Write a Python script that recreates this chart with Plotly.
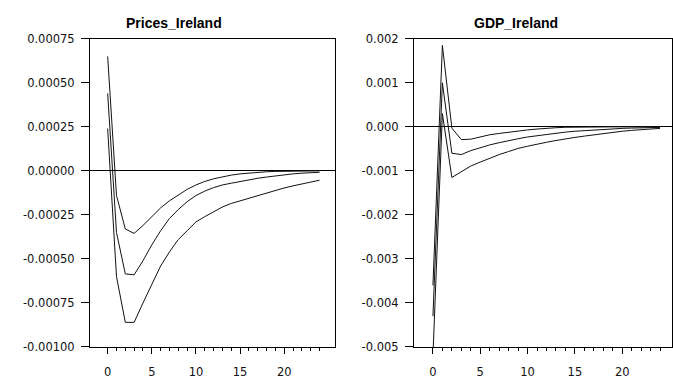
import plotly.graph_objects as go

periods = list(range(25))

prices_upper = [0.00065, -0.00014, -0.00033, -0.000355, -0.00031, -0.00026, -0.00021, -0.00017,
                -0.000135, -0.000105, -0.00008, -0.00006, -0.000045, -0.000033, -0.000024, -0.000017,
                -0.000012, -0.000008, -0.000005, -0.000003, -0.000002, -0.000001, -0.000001, 0.0, 0.0]
prices_mid = [0.00044, -0.00035, -0.000585, -0.00059, -0.00051, -0.00042, -0.00034, -0.00027,
              -0.00022, -0.000175, -0.00014, -0.000115, -0.000095, -0.00008, -0.00007, -0.00006,
              -0.00005, -0.000042, -0.000035, -0.000028, -0.000022, -0.000017, -0.000013, -0.00001, -0.000008]
prices_lower = [0.00024, -0.0006, -0.00086, -0.00086, -0.00075, -0.00064, -0.00054, -0.00046,
                -0.00039, -0.00034, -0.00029, -0.00026, -0.00023, -0.000205, -0.000185, -0.00017,
                -0.000155, -0.00014, -0.000125, -0.00011, -0.000097, -0.000085, -0.000074, -0.000063, -0.000053]

gdp_upper = [-0.0036, 0.00185, -0.00003, -0.00029, -0.00028, -0.00023, -0.00018, -0.00015,
             -0.00012, -0.00009, -0.00007, -0.00005, -0.00003, -0.00002, -0.00001, -0.000005,
             0.0, 0.0, 0.0, 0.0, 0.0, 0.0, 0.0, 0.0, 0.0]
gdp_mid = [-0.0043, 0.001, -0.0006, -0.00063, -0.00054, -0.00047, -0.00041, -0.00036,
           -0.00031, -0.00027, -0.00023, -0.0002, -0.00017, -0.00014, -0.00012, -0.0001,
           -0.000085, -0.00007, -0.000055, -0.000045, -0.000035, -0.000028, -0.000022, -0.000017, -0.000013]
gdp_lower = [-0.0052, 0.0003, -0.00115, -0.00102, -0.00089, -0.0008, -0.00071, -0.00063,
             -0.00056, -0.00049, -0.00044, -0.00039, -0.00035, -0.00031, -0.00027, -0.00024,
             -0.00021, -0.00018, -0.00015, -0.00012, -0.0001, -0.00008, -0.00006, -0.000045, -0.000035]

titles = ["Prices_Ireland", "GDP_Ireland"]
prices_ticks = [-0.001, -0.00075, -0.0005, -0.00025, 0.0, 0.00025, 0.0005, 0.00075]
gdp_ticks = [-0.005, -0.004, -0.003, -0.002, -0.001, 0.0, 0.001, 0.002]
x_major = [0, 5, 10, 15, 20]

W, H = 673, 380

fig = go.Figure()
line_style = dict(color="#111111", width=1)
for ys in (prices_upper, prices_mid, prices_lower):
    fig.add_trace(go.Scatter(x=periods, y=ys, mode="lines", line=line_style,
                             xaxis="x", yaxis="y", showlegend=False, hoverinfo="skip"))
for ys in (gdp_upper, gdp_mid, gdp_lower):
    fig.add_trace(go.Scatter(x=periods, y=ys, mode="lines", line=line_style,
                             xaxis="x2", yaxis="y2", showlegend=False, hoverinfo="skip"))

tick_font = dict(family="DejaVu Sans", size=11.5, color="#111111")
ydom = [1 - 353 / H, 1 - 33 / H]


def fmt(v, d):
    return f"{v:.{d}f}"


def xaxis(dom, rng, anchor):
    return dict(domain=dom, range=rng, anchor=anchor, showgrid=False, zeroline=False,
                showline=True, linecolor="black", linewidth=1, mirror=True,
                tickmode="array", tickvals=x_major, ticktext=[str(v) for v in x_major],
                ticks="outside", ticklen=6, tickcolor="black", tickwidth=1,
                ticklabelstandoff=8,
                minor=dict(tickmode="array", tickvals=periods, ticks="outside", ticklen=3,
                           tickcolor="black", tickwidth=1, showgrid=False),
                tickfont=tick_font, fixedrange=True)


def yaxis(rng, ticks, d, anchor):
    return dict(domain=ydom, range=rng, anchor=anchor, showgrid=False,
                zeroline=True, zerolinecolor="black", zerolinewidth=1,
                showline=True, linecolor="black", linewidth=1, mirror=True,
                tickmode="array", tickvals=ticks, ticktext=[fmt(v, d) for v in ticks],
                ticks="outside", ticklen=8, tickcolor="black", tickwidth=1,
                ticklabelstandoff=4, tickfont=tick_font, fixedrange=True)


fig.update_layout(
    width=W, height=H, margin=dict(l=0, r=0, t=0, b=0),
    paper_bgcolor="white", plot_bgcolor="white",
    xaxis=xaxis([90 / W, 335 / W], [-2, 25.75], "y"),
    yaxis=yaxis([-0.001, 0.00075], prices_ticks, 5, "x"),
    xaxis2=xaxis([414 / W, 672 / W], [-2, 25.26], "y2"),
    yaxis2=yaxis([-0.005, 0.002], gdp_ticks, 3, "x2"),
    annotations=[
        dict(text=f"<b>{titles[0]}</b>", x=174 / W, y=1 - 16.5 / H, xref="paper", yref="paper",
             showarrow=False, xanchor="center", yanchor="middle",
             font=dict(family="Liberation Sans, Arial", size=14, color="black")),
        dict(text=f"<b>{titles[1]}</b>", x=515.7 / W, y=1 - 16.5 / H, xref="paper", yref="paper",
             showarrow=False, xanchor="center", yanchor="middle",
             font=dict(family="Liberation Sans, Arial", size=14, color="black")),
    ],
)

fig.write_html("out.html")
